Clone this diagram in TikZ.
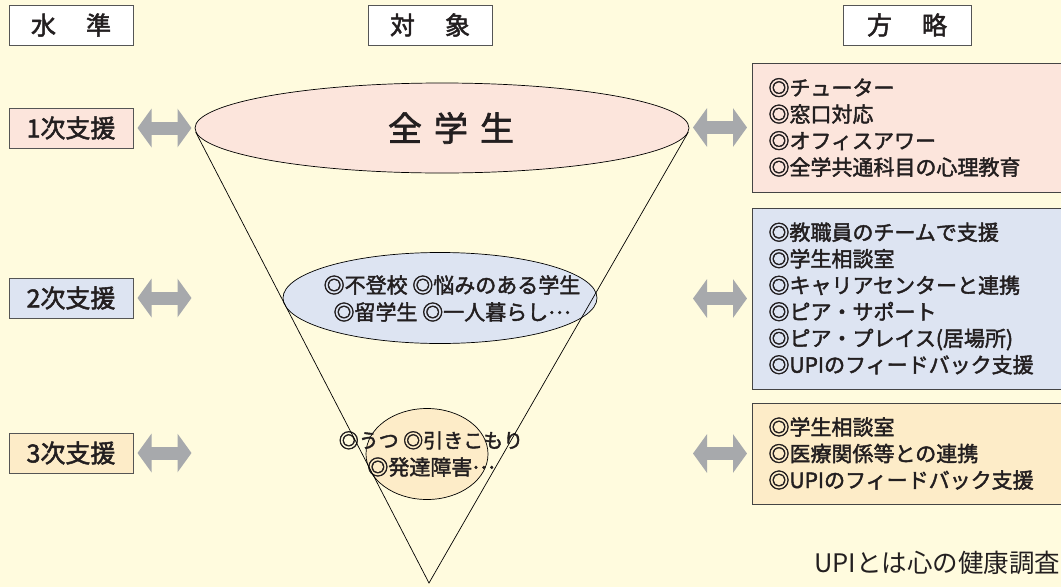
\documentclass[tikz,border=0pt]{standalone}
\usepackage{fontspec}
\newfontfamily\jp[FakeBold=2]{Noto Sans CJK JP}
\newfontfamily\jpl{Noto Sans CJK JP}
\usetikzlibrary{arrows.meta,shapes.geometric}
\definecolor{bgc}{RGB}{255,251,222}
\definecolor{pinkc}{RGB}{252,229,220}
\definecolor{bluec}{RGB}{221,228,242}
\definecolor{peachc}{RGB}{253,236,200}
\definecolor{arrowc}{RGB}{167,169,172}
\definecolor{edgec}{RGB}{85,85,85}
\definecolor{inkc}{RGB}{35,31,32}
\newcommand{\middots}{\raisebox{0.3em}{…}}
\begin{document}
\begin{tikzpicture}[x=1pt,y=-1pt,
  every node/.style={text=inkc},
  hdr/.style={draw=edgec, line width=1pt, fill=white, minimum width=124pt, minimum height=40pt, inner sep=0pt, font=\jp\fontsize{25}{30}\selectfont},
  lvl/.style={draw=edgec, line width=1pt, minimum width=124pt, minimum height=40pt, inner sep=0pt, font=\jp\fontsize{25}{30}\selectfont},
  ell/.style={ellipse, draw=black, line width=0.7pt, inner sep=0pt},
  txt/.style={inner sep=0pt, align=center, font=\jp\fontsize{21}{27}\selectfont},
  strat/.style={draw=edgec!80!black, line width=1pt, anchor=west, text width=288pt, inner xsep=16pt, inner ysep=0pt, align=left, font=\jp\fontsize{21}{26.5}\selectfont},
  garrow/.style={draw=arrowc, line width=13pt, line cap=butt, {Triangle[length=14pt,width=38pt]}-{Triangle[length=14pt,width=38pt]}},
  cone/.style={draw=black, line width=0.7pt}
]
\useasboundingbox (0,0) rectangle (1061,587);
\fill[bgc] (0,0) rectangle (1061,587);
\clip (0,0) rectangle (1061,587);

% headers
\node[hdr] (h1) at (71,25) {水\hspace{30pt}準};
\node[hdr] (h2) at (430,25) {対\hspace{30pt}象};
\node[hdr, minimum width=128pt] (h3) at (907,25) {方\hspace{30pt}略};

% levels
\node[lvl, fill=pinkc] (l1) at (71,128) {1次支援};
\node[lvl, fill=bluec] (l2) at (71,298) {2次支援};
\node[lvl, fill=peachc] (l3) at (71,453) {3次支援};

% targets
\node[ell, fill=pinkc, minimum width=494pt, minimum height=90pt] (e1) at (442,128) {};
\node[inner sep=0pt, font=\jp\fontsize{34}{40}\selectfont] (t1) at (451,128) {全\hspace{12pt}学\hspace{12pt}生};
\node[ell, fill=bluec, minimum width=314pt, minimum height=91pt] (e2) at (440,298) {};
\node[txt] (t2) at (452,298.5) {◎不登校 ◎悩みのある学生\\◎留学生 ◎一人暮らし\middots};
\node[ell, fill=peachc, minimum width=122pt, minimum height=91pt] (e3) at (427,454) {};
\node[txt, font=\jp\fontsize{20}{27}\selectfont] (t3) at (431,454) {◎うつ ◎引きこもり\\\fontsize{21}{27}\selectfont◎発達障害\middots};

% strategies
\node[strat, fill=pinkc, minimum height=129pt] (s1) at (752,127.5) {◎チューター\\◎窓口対応\\◎オフィスアワー\\◎全学共通科目の心理教育};
\node[strat, fill=bluec, minimum height=181pt] (s2) at (752,298.5) {◎教職員のチームで支援\\◎学生相談室\\◎キャリアセンターと連携\\◎ピア・サポート\\◎ピア・プレイス(居場所)\\◎UPIのフィードバック支援};
\node[strat, fill=peachc, minimum height=101pt] (s3) at (752,453.5) {◎学生相談室\\◎医療関係等との連携\\◎UPIのフィードバック支援};

% double arrows
\draw[garrow] ([xshift=4pt]l1.east) -- ([xshift=58pt]l1.east);
\draw[garrow] ([xshift=4pt]l2.east) -- ([xshift=58pt]l2.east);
\draw[garrow] ([xshift=4pt]l3.east) -- ([xshift=58pt]l3.east);
\draw[garrow] ([xshift=-59pt]s1.west) -- ([xshift=-5pt]s1.west);
\draw[garrow] ([xshift=-59pt]s2.west) -- ([xshift=-5pt]s2.west);
\draw[garrow] ([xshift=-59pt]s3.west) -- ([xshift=-5pt]s3.west);

% cone
\coordinate (apex) at (429,583);
\draw[cone] (e1.181) -- (apex) -- (e1.359.5);

% footnote
\node[anchor=west, inner sep=0pt, font=\jpl\fontsize{25.5}{30}\selectfont] (fn) at (814,563) {UPIとは心の健康調査};
\end{tikzpicture}
\end{document}
